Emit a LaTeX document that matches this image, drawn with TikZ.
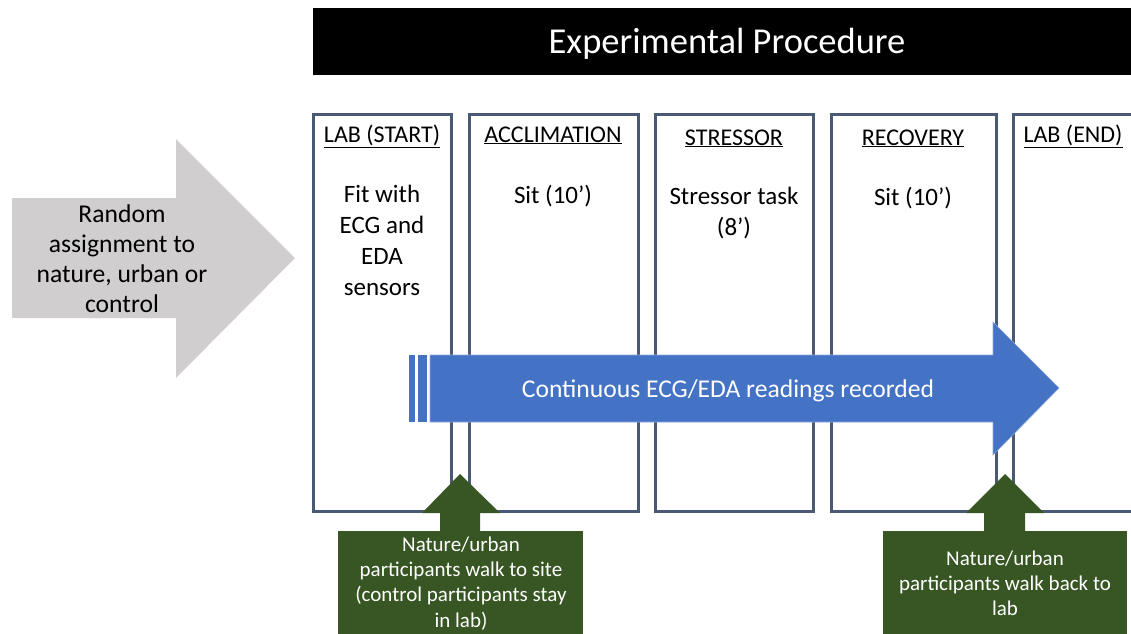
\documentclass[tikz,border=0pt]{standalone}
\usepackage{fontspec}
\setmainfont{Carlito}
\definecolor{stepgrey}{HTML}{D0CECE}
\definecolor{frameblue}{HTML}{4A5A74}
\definecolor{readblue}{HTML}{4472C4}
\definecolor{walkgreen}{HTML}{375623}
\begin{document}
\begin{tikzpicture}[x=1pt, y=-1pt,
        phase/.style={draw=frameblue, line width=3pt},
        phasetxt/.style={align=center, inner sep=0pt, anchor=base, font=\fontsize{24}{30.7}\selectfont},
        bodytxt/.style={phasetxt, font=\fontsize{25}{30.7}\selectfont},
        walktxt/.style={align=center, inner sep=0pt, anchor=base, text=white, font=\fontsize{21}{25.3}\selectfont}]
    \useasboundingbox (0,0) rectangle (1131,633);
    \def\boxtop{114}
    \def\boxbot{511}

    % title bar
    \fill[black] (313,8) rectangle (1131,75);
    \node[text=white, inner sep=0pt, anchor=base, font=\fontsize{36.5}{40}\selectfont] (title) at (727,53) {Experimental Procedure};

    % grey arrow
    \fill[stepgrey] (12,198) -- (176,198) -- (176,139) -- (295,258) -- (176,378) -- (176,318) -- (12,318) -- cycle;
    \node[phasetxt, font=\fontsize{25.6}{30}\selectfont] (assign) at (122,312) {Random\\assignment to\\nature, urban or\\control};

    % phase boxes
    \foreach \l/\r in {313/451, 469/638, 655/813, 831/996, 1013/1170}
        \draw[phase] (\l,\boxtop) rectangle (\r,\boxbot);

    \node[phasetxt] (labstart) at (382,142) {\underline{LAB (START)}};
    \node[phasetxt] (acclim) at (553,142) {\underline{ACCLIMATION}};
    \node[phasetxt] (stressor) at (734,145) {\underline{STRESSOR}};
    \node[phasetxt] (recovery) at (913,145) {\underline{RECOVERY}};
    \node[phasetxt] (labend) at (1073,142) {\underline{LAB (END)}};

    % last lines on the base
    \node[bodytxt] (fit) at (382,295) {Fit with\\ECG and\\EDA\\sensors};
    \node[bodytxt] (sitA) at (553,203) {Sit (10’)};
    \node[bodytxt] (task) at (734,235) {Stressor task\\(8’)};
    \node[bodytxt] (sitB) at (913,205) {Sit (10’)};

    % continuous recording arrow
    \fill[readblue] (409,355) rectangle (415,422);
    \fill[readblue] (418,355) rectangle (427,422);
    \filldraw[fill=readblue, draw=readblue!60!white, line width=0.6pt] (430,355) -- (993,355) -- (993,322) -- (1059,388) -- (993,455) -- (993,422) -- (430,422) -- cycle;
    \node[text=white, inner sep=0pt, anchor=base, font=\fontsize{25.6}{30}\selectfont] (record) at (728,397) {Continuous ECG/EDA readings recorded};

    % walk arrows
    \fill[walkgreen] (440,532) -- (440,513) -- (422,513) -- (460,474) -- (500,513) -- (480,513) -- (480,532) -- cycle;
    \fill[walkgreen] (338,531) rectangle (583,640);
    \node[walktxt] (walkto) at (461,627) {Nature/urban\\participants walk to site\\(control participants stay\\in lab)};

    \fill[walkgreen] (984,532) -- (984,513) -- (966,513) -- (1005,474) -- (1044,513) -- (1025,513) -- (1025,532) -- cycle;
    \fill[walkgreen] (883,531) rectangle (1127,640);
    \node[walktxt, font=\fontsize{21}{25}\selectfont] (walkback) at (1005,615) {Nature/urban\\participants walk back to\\lab};
\end{tikzpicture}
\end{document}
